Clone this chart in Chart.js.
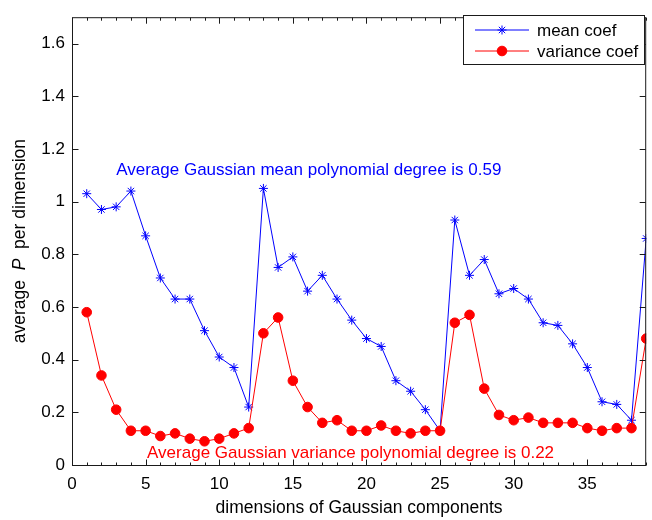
<!DOCTYPE html>
<html>
<head>
<meta charset="utf-8">
<title>average P per dimension</title>
<script src="https://cdn.jsdelivr.net/npm/chart.js@4.4.1/dist/chart.umd.min.js"></script>
<style>
    html, body { margin: 0; padding: 0; background: #fff; }
    #wrap { position: relative; width: 652px; height: 520px; }
    canvas { display: block; }
</style>
</head>
<body>
<div id="wrap"><canvas id="chart" width="652" height="520"></canvas></div>
<script>
// Data
const dims = [1, 2, 3, 4, 5, 6, 7, 8, 9, 10, 11, 12, 13, 14, 15, 16, 17, 18, 19, 20,
    21, 22, 23, 24, 25, 26, 27, 28, 29, 30, 31, 32, 33, 34, 35, 36, 37, 38, 39];
const meanCoef = [1.03, 0.97, 0.98, 1.04, 0.87, 0.71, 0.63, 0.63, 0.51, 0.41, 0.37, 0.22,
    1.05, 0.75, 0.79, 0.66, 0.72, 0.63, 0.55, 0.48, 0.45, 0.32, 0.28, 0.21, 0.13,
    0.93, 0.72, 0.78, 0.65, 0.67, 0.63, 0.54, 0.53, 0.46, 0.37, 0.24, 0.23, 0.17, 0.86];
const varianceCoef = [0.58, 0.34, 0.21, 0.13, 0.13, 0.11, 0.12, 0.10, 0.09, 0.10, 0.12, 0.14,
    0.50, 0.56, 0.32, 0.22, 0.16, 0.17, 0.13, 0.13, 0.15, 0.13, 0.12, 0.13, 0.13,
    0.54, 0.57, 0.29, 0.19, 0.17, 0.18, 0.16, 0.16, 0.16, 0.14, 0.13, 0.14, 0.14, 0.48];
const xTicks = [0, 5, 10, 15, 20, 25, 30, 35];
const yTicks = [0, 0.2, 0.4, 0.6, 0.8, 1, 1.2, 1.4, 1.6];
const seriesNames = ['mean coef', 'variance coef'];
const meanNote = 'Average Gaussian mean polynomial degree is 0.59';
const varianceNote = 'Average Gaussian variance polynomial degree is 0.22';

const FONT = "'Liberation Sans', Arial, sans-serif";
const BLUE = '#0000ff';
const RED = '#ff0000';

// Frame, inward ticks, notes, y title and legend
const decorPlugin = {
    id: 'decor',
    afterDraw(chart) {
        const ctx = chart.ctx;
        const area = chart.chartArea;
        const xs = chart.scales.x;
        const ys = chart.scales.y;
        const L = area.left + 0.5, R = area.right - 0.5, T = area.top + 0.5, B = area.bottom + 0.5;

        ctx.save();
        ctx.strokeStyle = '#1a1a1a';
        ctx.lineWidth = 1;
        ctx.strokeRect(L, T, R - L, B - T);

        // x ticks, one per unit, longer every 5
        ctx.beginPath();
        for (let v = 0; v <= xs.max; v++) {
            const px = Math.round(xs.getPixelForValue(v)) + 0.5;
            const len = v % 5 === 0 ? 6 : 3;
            ctx.moveTo(px, B); ctx.lineTo(px, B - len);
            ctx.moveTo(px, T); ctx.lineTo(px, T + len);
        }
        // y ticks at every labelled value
        yTicks.forEach(v => {
            const py = Math.round(ys.getPixelForValue(v)) + 0.5;
            ctx.moveTo(L, py); ctx.lineTo(L + 6, py);
            ctx.moveTo(R, py); ctx.lineTo(R - 6, py);
        });
        ctx.stroke();

        // notes inside the plot
        ctx.font = '17px ' + FONT;
        ctx.textBaseline = 'middle';
        ctx.textAlign = 'left';
        ctx.fillStyle = BLUE;
        ctx.fillText(meanNote, xs.getPixelForValue(3.0), ys.getPixelForValue(1.12));
        ctx.fillStyle = RED;
        ctx.fillText(varianceNote, xs.getPixelForValue(5.1), ys.getPixelForValue(0.045));

        // y title with italic P
        ctx.translate(20, (area.top + area.bottom) / 2);
        ctx.rotate(-Math.PI / 2);
        ctx.fillStyle = '#000';
        ctx.textBaseline = 'middle';
        const parts = [['average  ', '17.5px ' + FONT], ['P', 'italic 17.5px ' + FONT], ['  per dimension', '17.5px ' + FONT]];
        let total = 0;
        parts.forEach(p => { ctx.font = p[1]; total += ctx.measureText(p[0]).width; });
        let cx = -total / 2;
        parts.forEach(p => {
            ctx.font = p[1];
            ctx.fillText(p[0], cx, 0);
            cx += ctx.measureText(p[0]).width;
        });
        ctx.restore();

        // legend box
        ctx.save();
        const box = { x: 463.5, y: 15.5, w: 181, h: 49 };
        ctx.fillStyle = '#fff';
        ctx.fillRect(box.x, box.y, box.w, box.h);
        ctx.strokeStyle = '#1a1a1a';
        ctx.lineWidth = 1;
        ctx.strokeRect(box.x, box.y, box.w, box.h);
        ctx.font = '17px ' + FONT;
        ctx.textBaseline = 'middle';
        chart.data.datasets.forEach((ds, i) => {
            const rowY = 30 + i * 21;
            ctx.strokeStyle = ds.borderColor;
            ctx.lineWidth = 1;
            ctx.beginPath();
            ctx.moveTo(475, rowY); ctx.lineTo(529, rowY);
            ctx.stroke();
            ctx.fillStyle = ds.pointBackgroundColor;
            ctx.strokeStyle = ds.pointBorderColor;
            ctx.lineWidth = ds.pointBorderWidth;
            Chart.helpers.drawPoint(ctx, {
                pointStyle: ds.pointStyle, radius: ds.pointRadius,
                borderWidth: ds.pointBorderWidth, rotation: 0
            }, 502, rowY);
            ctx.fillStyle = '#000';
            ctx.fillText(ds.label, 537, rowY + 1);
        });
        ctx.restore();
    }
};

const ctx = document.getElementById('chart').getContext('2d');
new Chart(ctx, {
    type: 'line',
    data: {
        labels: dims,
        datasets: [{
            label: seriesNames[0],
            data: dims.map((d, i) => ({ x: d, y: meanCoef[i] })),
            borderColor: BLUE,
            borderWidth: 1,
            pointStyle: 'star',
            pointRadius: 4.5,
            pointBorderWidth: 1,
            pointBorderColor: BLUE,
            pointBackgroundColor: BLUE,
            tension: 0,
            order: 1
        }, {
            label: seriesNames[1],
            data: dims.map((d, i) => ({ x: d, y: varianceCoef[i] })),
            borderColor: RED,
            borderWidth: 1,
            pointStyle: 'circle',
            pointRadius: 4.8,
            pointBorderWidth: 1,
            pointBorderColor: RED,
            pointBackgroundColor: RED,
            tension: 0,
            order: 0
        }]
    },
    options: {
        responsive: false,
        animation: false,
        devicePixelRatio: 1,
        layout: { padding: { top: 6, right: 0, left: 0, bottom: 0 } },
        plugins: {
            legend: { display: false },
            tooltip: { enabled: false }
        },
        scales: {
            x: {
                type: 'linear',
                min: 0,
                max: 39,
                grid: { display: false, drawTicks: false },
                border: { display: false },
                afterBuildTicks: s => { s.ticks = xTicks.map(v => ({ value: v })); },
                afterFit: s => { s.height = 55; },
                ticks: {
                    color: '#000',
                    padding: 9,
                    maxRotation: 0,
                    autoSkip: false,
                    font: { family: FONT, size: 17 },
                    callback: v => String(v)
                },
                title: {
                    display: true,
                    text: 'dimensions of Gaussian components',
                    color: '#000',
                    font: { family: FONT, size: 17.5 },
                    padding: { top: 0, bottom: 1 }
                }
            },
            y: {
                min: 0,
                max: 1.7,
                grid: { display: false, drawTicks: false },
                border: { display: false },
                afterBuildTicks: s => { s.ticks = yTicks.map(v => ({ value: v })); },
                afterFit: s => { s.width = 72; },
                ticks: {
                    color: '#000',
                    padding: 7,
                    autoSkip: false,
                    font: { family: FONT, size: 17 },
                    callback: v => String(Math.round(v * 10) / 10)
                }
            }
        }
    },
    plugins: [decorPlugin]
});
</script>
</body>
</html>
